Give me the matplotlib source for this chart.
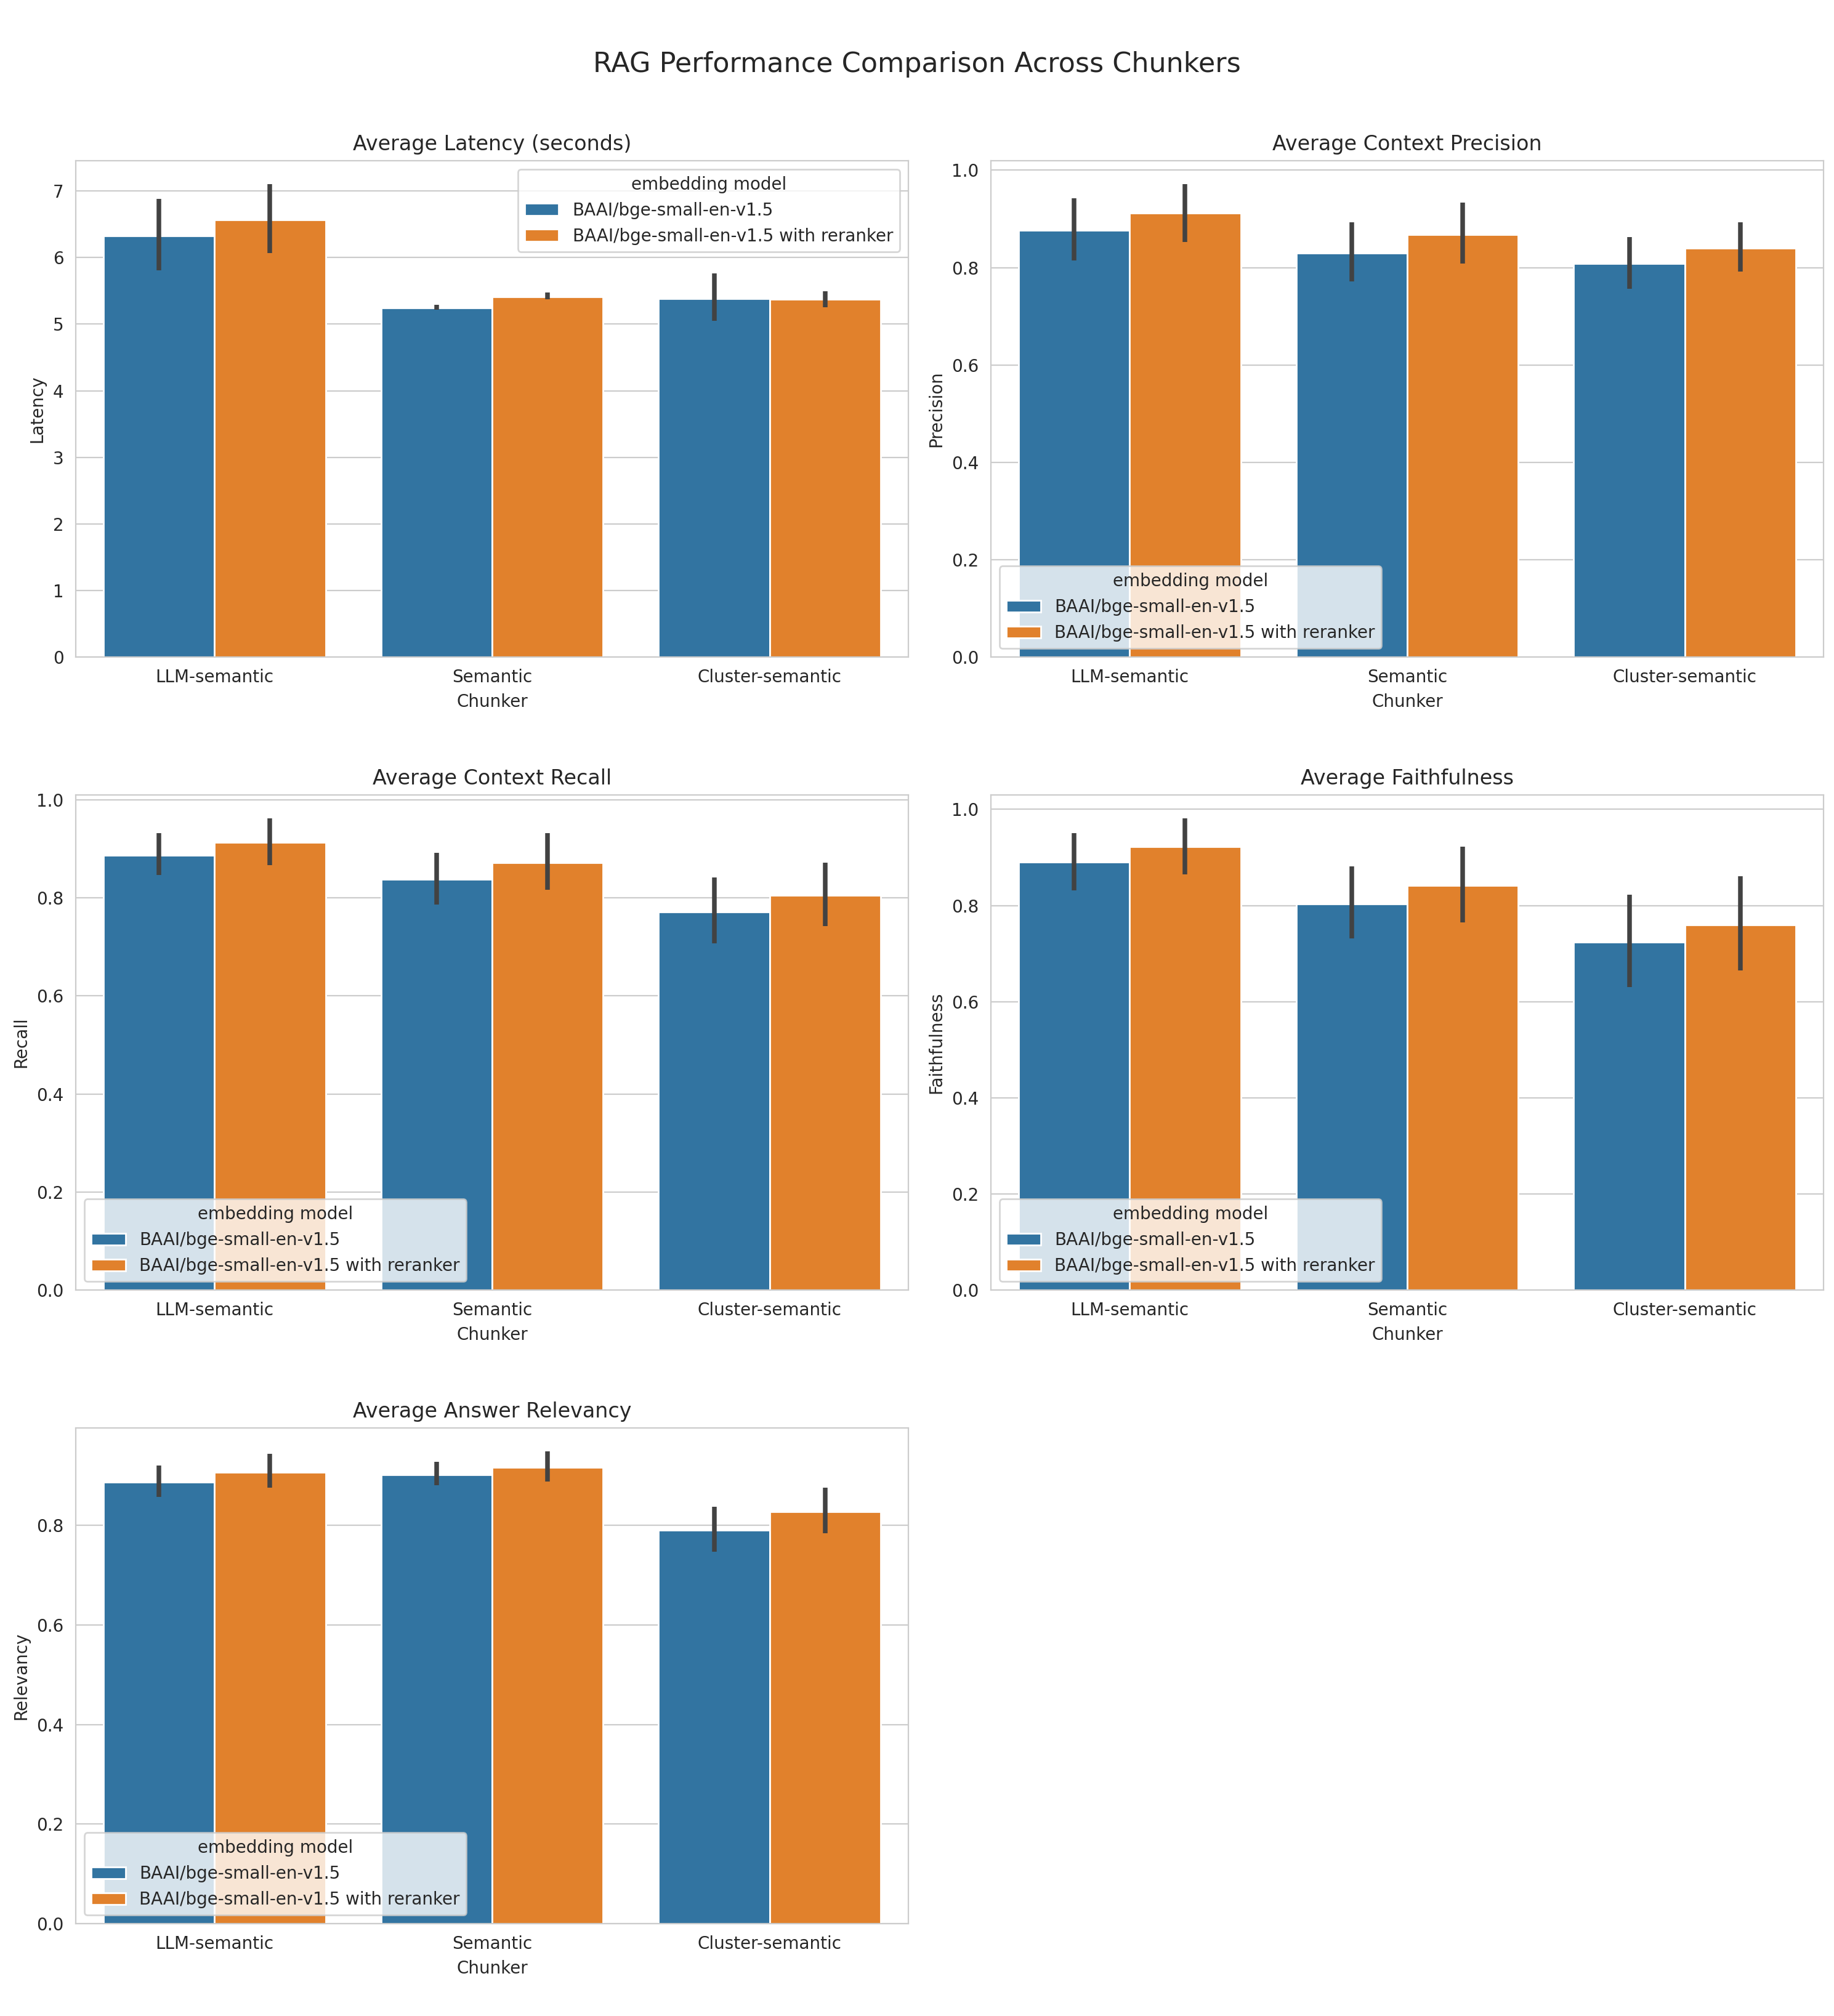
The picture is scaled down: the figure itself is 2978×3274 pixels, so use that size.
import numpy as np
import matplotlib
matplotlib.use("Agg")
import matplotlib.pyplot as plt
import seaborn as sns

sns.set_style("whitegrid")
plt.rcParams['font.family'] = ['DejaVu Sans']

chunkers = ["LLM-semantic", "Semantic", "Cluster-semantic"]
models = ["BAAI/bge-small-en-v1.5", "BAAI/bge-small-en-v1.5 with reranker"]

latency_base = [6.33, 5.24, 5.38]
latency_rerank = [6.57, 5.41, 5.37]
latency_base_lo = [5.81, 5.22, 5.05]
latency_base_hi = [6.88, 5.29, 5.76]
latency_rerank_lo = [6.07, 5.37, 5.25]
latency_rerank_hi = [7.10, 5.48, 5.49]

precision_base = [0.876, 0.830, 0.808]
precision_rerank = [0.912, 0.868, 0.840]
precision_base_lo = [0.815, 0.771, 0.756]
precision_base_hi = [0.943, 0.893, 0.863]
precision_rerank_lo = [0.853, 0.808, 0.792]
precision_rerank_hi = [0.971, 0.934, 0.893]

recall_base = [0.887, 0.838, 0.772]
recall_rerank = [0.913, 0.872, 0.805]
recall_base_lo = [0.847, 0.787, 0.707]
recall_base_hi = [0.932, 0.892, 0.842]
recall_rerank_lo = [0.867, 0.817, 0.742]
recall_rerank_hi = [0.962, 0.932, 0.872]

faith_base = [0.891, 0.803, 0.724]
faith_rerank = [0.922, 0.842, 0.760]
faith_base_lo = [0.831, 0.732, 0.630]
faith_base_hi = [0.951, 0.882, 0.823]
faith_rerank_lo = [0.865, 0.765, 0.665]
faith_rerank_hi = [0.981, 0.923, 0.861]

relev_base = [0.886, 0.901, 0.790]
relev_rerank = [0.906, 0.916, 0.827]
relev_base_lo = [0.857, 0.880, 0.747]
relev_base_hi = [0.920, 0.928, 0.837]
relev_rerank_lo = [0.875, 0.888, 0.784]
relev_rerank_hi = [0.943, 0.948, 0.876]

panels = [
    ("Average Latency (seconds)", "Latency",
     (latency_base, latency_base_lo, latency_base_hi),
     (latency_rerank, latency_rerank_lo, latency_rerank_hi), "upper right"),
    ("Average Context Precision", "Precision",
     (precision_base, precision_base_lo, precision_base_hi),
     (precision_rerank, precision_rerank_lo, precision_rerank_hi), "lower left"),
    ("Average Context Recall", "Recall",
     (recall_base, recall_base_lo, recall_base_hi),
     (recall_rerank, recall_rerank_lo, recall_rerank_hi), "lower left"),
    ("Average Faithfulness", "Faithfulness",
     (faith_base, faith_base_lo, faith_base_hi),
     (faith_rerank, faith_rerank_lo, faith_rerank_hi), "lower left"),
    ("Average Answer Relevancy", "Relevancy",
     (relev_base, relev_base_lo, relev_base_hi),
     (relev_rerank, relev_rerank_lo, relev_rerank_hi), "lower left"),
]

colors = sns.color_palette("tab10", 2, desat=0.75)

W, H = 2978, 3274
DPI = 200
fig = plt.figure(figsize=(W / DPI, H / DPI), dpi=DPI)

col_lr = [(123, 1475), (1609, 2961)]
row_tb = [(261, 1067), (1291, 2095), (2319, 3124)]

for i, (title, ylabel, base, rer, loc) in enumerate(panels):
    r, c = divmod(i, 2)
    l, rr = col_lr[c]
    t, b = row_tb[r]
    ax = fig.add_axes([l / W, 1 - b / H, (rr - l) / W, (b - t) / H])
    x = np.arange(len(chunkers))
    width = 0.4
    for j, (vals, col, name) in enumerate(zip([base, rer], colors, models)):
        mean, lo, hi = [np.asarray(v) for v in vals]
        pos = x - 0.2 + j * width
        ax.bar(pos, mean, width=width, color=col, edgecolor="white",
               linewidth=1, label=name, zorder=2)
        for p, a, bb in zip(pos, lo, hi):
            ax.plot([p, p], [a, bb], color=".26", linewidth=2.7,
                    solid_capstyle="butt", zorder=3)
    ax.set_xticks(x)
    ax.set_xticklabels(chunkers)
    ax.set_xlim(-0.5, len(chunkers) - 0.5)
    ax.set_ylim(bottom=0)
    ax.xaxis.grid(False)
    ax.set_title(title, fontsize=12)
    ax.set_xlabel("Chunker")
    ax.set_ylabel(ylabel)
    ax.legend(title="embedding model", loc=loc)

fig.suptitle("RAG Performance Comparison Across Chunkers", fontsize=16,
             y=1 - 104 / H, va="center")

fig.savefig("out.png", dpi=DPI)
